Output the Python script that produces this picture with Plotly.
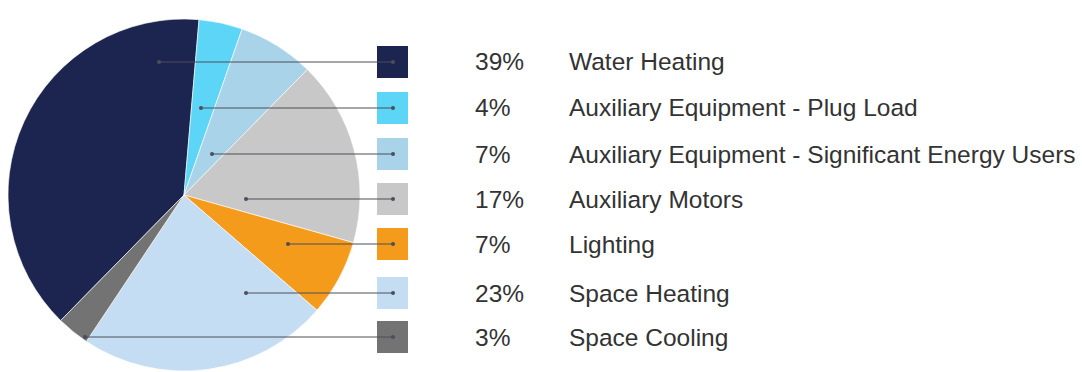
import plotly.graph_objects as go

# ---- data ----
categories = [
    "Water Heating",
    "Auxiliary Equipment - Plug Load",
    "Auxiliary Equipment - Significant Energy Users",
    "Auxiliary Motors",
    "Lighting",
    "Space Heating",
    "Space Cooling",
]
shares = [39, 4, 7, 17, 7, 23, 3]
pct_labels = [f"{v}%" for v in shares]

# ---- styles / layout ----
colors = ["#1C2550", "#5DD5F7", "#A8D3E8", "#C8C8C8", "#F59B1C", "#C5DDF3", "#737373"]
W, H = 1082, 372
row_y = [62, 108, 154, 199, 244, 293, 337]          # pixel rows of legend entries
leader_x0 = [159, 201, 212, 246, 288, 246, 85]       # leader start inside slice
leader_x1 = 393
sq_x0, sq_x1, sq_h = 377, 408, 32
pct_x, lab_x = 473, 567
font_fam = "Liberation Sans, Arial, sans-serif"
txt_col = "#333333"

cx, cy, r = 184, 195, 176

fig = go.Figure()
fig.add_trace(go.Pie(
    labels=categories,
    values=shares,
    sort=False,
    direction="clockwise",
    rotation=-135.5,
    marker=dict(colors=colors, line=dict(color="rgba(255,255,255,0.6)", width=1)),
    textinfo="none",
    hoverinfo="label+percent",
    showlegend=False,
    domain=dict(x=[(cx - r) / W, (cx + r) / W], y=[max(0, 1 - (cy + r) / H), 1 - (cy - r) / H]),
))

def px(x):
    return x / W

def py(y):
    return 1 - y / H

shapes = []
annotations = []
for i, (cat, pct) in enumerate(zip(categories, pct_labels)):
    y = row_y[i]
    shapes.append(dict(type="rect", xref="paper", yref="paper",
                       x0=px(sq_x0), x1=px(sq_x1),
                       y0=py(y - sq_h / 2), y1=py(y + sq_h / 2),
                       fillcolor=colors[i], line=dict(width=0), layer="above"))
    shapes.append(dict(type="line", xref="paper", yref="paper",
                       x0=px(leader_x0[i]), x1=px(leader_x1),
                       y0=py(y), y1=py(y),
                       line=dict(color="#4A4F5A", width=1), layer="above"))
    for xd in (leader_x0[i], leader_x1):
        shapes.append(dict(type="circle", xref="paper", yref="paper",
                           x0=px(xd - 2), x1=px(xd + 2),
                           y0=py(y - 2), y1=py(y + 2),
                           fillcolor="#4A4F5A", line=dict(width=0), layer="above"))
    annotations.append(dict(xref="paper", yref="paper", x=px(pct_x), y=py(y),
                            text=pct, showarrow=False, xanchor="left", yanchor="middle",
                            font=dict(family=font_fam, size=24.5, color=txt_col)))
    annotations.append(dict(xref="paper", yref="paper", x=px(lab_x), y=py(y),
                            text=cat, showarrow=False, xanchor="left", yanchor="middle",
                            font=dict(family=font_fam, size=24.5, color=txt_col)))

fig.update_layout(
    width=W, height=H,
    margin=dict(l=0, r=0, t=0, b=0),
    paper_bgcolor="white",
    plot_bgcolor="white",
    shapes=shapes,
    annotations=annotations,
    showlegend=False,
)

fig.write_html("out.html")
